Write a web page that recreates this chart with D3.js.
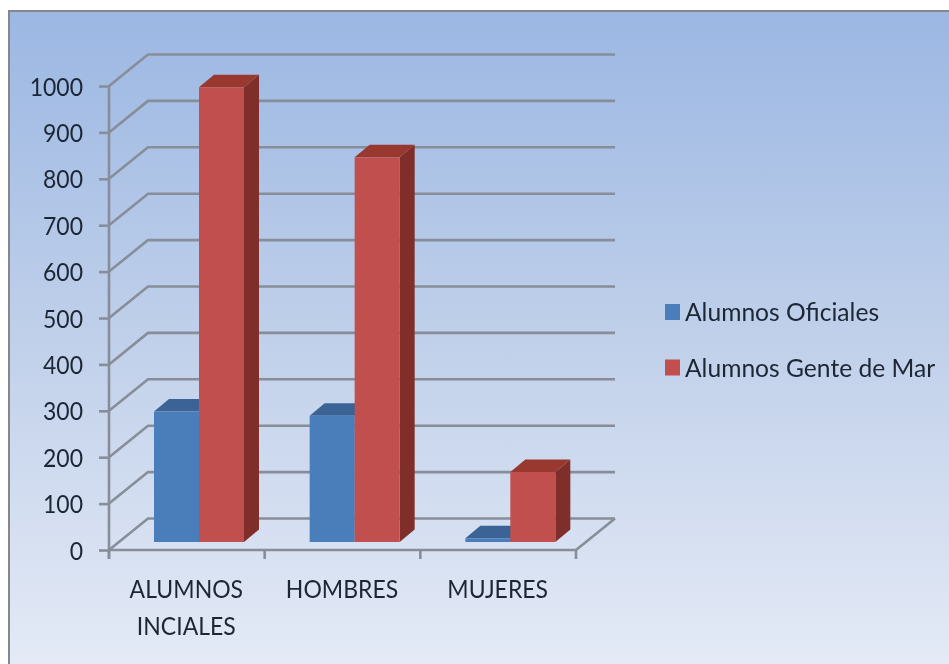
<!DOCTYPE html>
<html>
<head lang="es">
    <meta charset="UTF-8">
    <title>Alumnos</title>
    <script src="https://d3js.org/d3.v7.min.js"></script>
    <style>
        html, body { margin: 0; padding: 0; background: #fff; }
        text { font-family: Lato, "Open Sans", sans-serif; fill: #1b2534; }
    </style>
</head>
<body>
<div id="chartContainer"></div>
<script type="text/javascript">
    var categories = ["ALUMNOS INCIALES", "HOMBRES", "MUJERES"];
    var seriesNames = ["Alumnos Oficiales", "Alumnos Gente de Mar"];
    var oficiales = [281, 272, 8];
    var genteDeMar = [980, 829, 151];
    var yTicks = [0, 100, 200, 300, 400, 500, 600, 700, 800, 900, 1000];

    var frontColors = ["#4a7ebb", "#c0504d"];
    var topColors = ["#3a6496", "#98372f"];
    var sideColors = ["#335a87", "#7f2e2a"];
    var gridColor = "#878e99";

    var width = 949, height = 664;
    var svg = d3.select("#chartContainer").append("svg")
        .attr("width", width).attr("height", height)
        .style("display", "block");

    var defs = svg.append("defs");
    var bg = defs.append("linearGradient").attr("id", "bg")
        .attr("x1", 0).attr("y1", 0).attr("x2", 0).attr("y2", 1);
    bg.append("stop").attr("offset", "0%").attr("stop-color", "#9bb7e3");
    bg.append("stop").attr("offset", "50%").attr("stop-color", "#c0d0ea");
    bg.append("stop").attr("offset", "100%").attr("stop-color", "#e4eaf6");
    // the reference is a soft screenshot, so take the edge off everything a little
    defs.append("filter").attr("id", "soft").attr("x", 0).attr("y", 0)
        .attr("width", "100%").attr("height", "100%")
        .append("feGaussianBlur").attr("stdDeviation", 0.45);

    var root = svg.append("g").attr("filter", "url(#soft)");

    // chart area, only the top and left edges show a border
    root.append("rect").attr("x", 8).attr("y", 10).attr("width", width - 8).attr("height", height - 10)
        .attr("fill", "url(#bg)");
    root.append("path").attr("d", "M8.5," + height + "V10.5H" + width)
        .attr("fill", "none").attr("stroke", "#85878c").attr("stroke-width", 3);

    var y = d3.scaleLinear().domain([0, 1000]).range([550, 86]);
    var x0 = d3.scaleBand().domain(categories).range([109, 576]);
    // bars sit on the floor, shifted back from the front edge
    var x1 = d3.scaleBand().domain(seriesNames).range([45, 135]);

    var wallDx = 39, wallDy = -31.5;    // depth of the floor/walls
    var floorDy = -8;                   // bar base above the front edge
    var depthX = 15, depthY = -12.5;    // depth of a bar
    var squeeze = 0.92;                 // Lato is wider than the original font

    // gridlines: diagonal on the side wall then along the back wall
    var grid = root.append("g").attr("fill", "none").attr("stroke", gridColor).attr("stroke-width", 2.6);
    grid.selectAll("path").data(yTicks).enter().append("path")
        .attr("d", function (d) {
            return "M109," + y(d) + "l" + wallDx + "," + wallDy + "H615";
        });
    // front right edge of the floor
    grid.append("path").attr("d", "M576," + y(0) + "L615," + (y(0) + wallDy));

    var yAxis = d3.axisLeft(y).tickValues(yTicks).tickSize(10).tickFormat(d3.format("d"));
    var gy = root.append("g").attr("transform", "translate(109,0)").call(yAxis);
    gy.selectAll("text")
        .attr("x", 0).attr("dy", null).attr("y", 9)
        .attr("transform", "translate(-26,0) scale(" + squeeze + ",1)")
        .style("font-size", "25px");

    var xAxis = d3.axisBottom(x0).tickSize(0).tickFormat("");
    var gx = root.append("g").attr("transform", "translate(0," + y(0) + ")").call(xAxis);
    gx.selectAll(".tick").remove();
    gx.selectAll("line.edge").data(x0.domain().map(function (c) { return x0(c); }).concat([x0.range()[1]]))
        .enter().append("line").attr("class", "edge")
        .attr("x1", function (d) { return d; }).attr("x2", function (d) { return d; })
        .attr("y1", 0).attr("y2", 9);
    root.selectAll(".domain, .edge, .tick line")
        .attr("stroke", gridColor).attr("stroke-width", 2.6);
    gy.select(".domain").attr("d", "M0," + y(1000) + "V" + (y(0) + 9));
    gx.select(".domain").attr("d", "M109,0H576");

    // category labels, wrapped on spaces
    var catLabels = root.append("g").attr("text-anchor", "middle").style("font-size", "25px");
    categories.forEach(function (c) {
        var cx = x0(c) + x0.bandwidth() / 2 - 0.5;
        c.split(" ").forEach(function (word, i) {
            catLabels.append("text")
                .attr("transform", "translate(" + cx + "," + (598 + i * 37) + ") scale(" + squeeze + ",1)")
                .text(word);
        });
    });

    // bars
    var allValues = [oficiales, genteDeMar];
    categories.forEach(function (c, ci) {
        seriesNames.forEach(function (s, si) {
            var v = allValues[si][ci];
            var left = x0(c) + x1(s), w = x1.bandwidth();
            var top = y(v) + floorDy, base = y(0) + floorDy;
            var g = root.append("g");
            g.append("path").attr("fill", sideColors[si])
                .attr("d", "M" + (left + w) + "," + top + "l" + depthX + "," + depthY +
                    "V" + (base + depthY) + "l" + (-depthX) + "," + (-depthY) + "Z");
            g.append("path").attr("fill", topColors[si])
                .attr("d", "M" + left + "," + top + "l" + depthX + "," + depthY +
                    "h" + w + "l" + (-depthX) + "," + (-depthY) + "Z");
            g.append("rect").attr("fill", frontColors[si])
                .attr("x", left).attr("y", top).attr("width", w).attr("height", base - top);
        });
    });

    // legend
    var legend = root.selectAll("g.legend").data(seriesNames).enter().append("g")
        .attr("class", "legend")
        .attr("transform", function (d, i) { return "translate(665," + (304 + i * 55.5) + ")"; });
    legend.append("rect").attr("width", 15).attr("height", 16)
        .attr("fill", function (d, i) { return frontColors[i]; });
    legend.append("text").attr("transform", "translate(20,17) scale(0.985,1)").style("font-size", "25px")
        .text(function (d) { return d; });
</script>
</body>
</html>
